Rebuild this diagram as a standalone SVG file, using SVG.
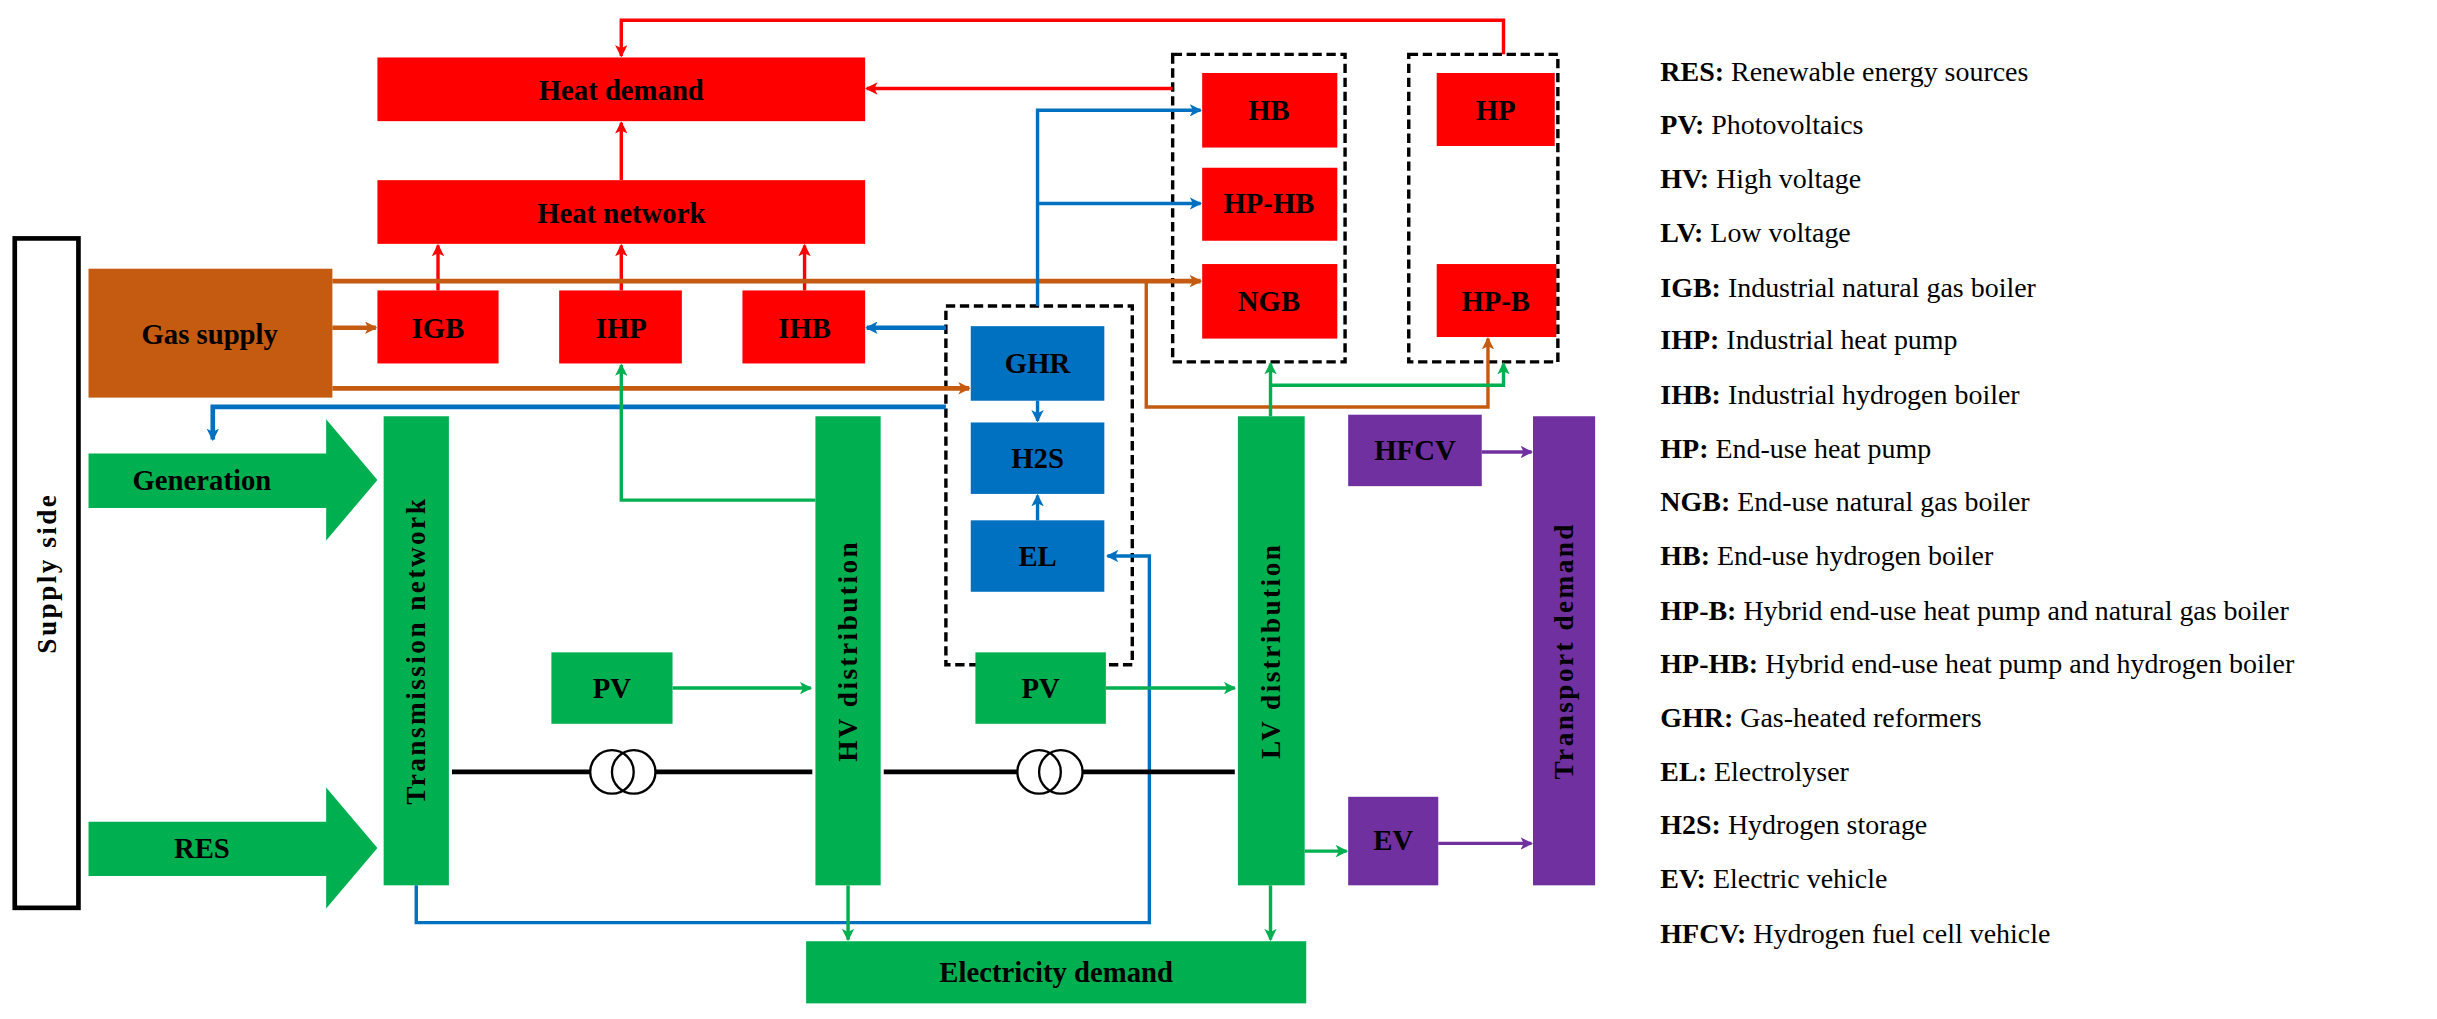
<svg xmlns="http://www.w3.org/2000/svg" width="2437" height="1019" viewBox="0 0 2437 1019">
<style>
text{font-family:"Liberation Serif","DejaVu Serif",serif;font-weight:bold;fill:#000}
.t{font-size:18.5px;text-anchor:middle;dominant-baseline:central}
.v{font-size:17.5px;letter-spacing:1.6px}
.lg{font-size:18px;font-weight:normal}
.lg tspan.k{font-weight:bold}
.r{fill:#FF0000}.g{fill:#00B050}.b{fill:#0070C0}.o{fill:#C55A11}.p{fill:#7030A0}
.c{fill:none;stroke-width:2.2}
.cr{stroke:#FF0000;marker-end:url(#ar)}.cg{stroke:#00B050;marker-end:url(#ag)}.cb{stroke:#0070C0;marker-end:url(#ab)}.co{stroke:#C55A11;marker-end:url(#ao)}.cp{stroke:#7030A0;marker-end:url(#ap)}
.d{fill:none;stroke:#000;stroke-width:2.2;stroke-dasharray:6,3}
</style>
<defs>
<marker id="ar" markerWidth="8" markerHeight="8" refX="7" refY="4" orient="auto" markerUnits="userSpaceOnUse"><path d="M0,0L8,4L0,8L2,4z" fill="#FF0000"/></marker>
<marker id="ag" markerWidth="8" markerHeight="8" refX="7" refY="4" orient="auto" markerUnits="userSpaceOnUse"><path d="M0,0L8,4L0,8L2,4z" fill="#00B050"/></marker>
<marker id="ab" markerWidth="8" markerHeight="8" refX="7" refY="4" orient="auto" markerUnits="userSpaceOnUse"><path d="M0,0L8,4L0,8L2,4z" fill="#0070C0"/></marker>
<marker id="ao" markerWidth="8" markerHeight="8" refX="7" refY="4" orient="auto" markerUnits="userSpaceOnUse"><path d="M0,0L8,4L0,8L2,4z" fill="#C55A11"/></marker>
<marker id="ap" markerWidth="8" markerHeight="8" refX="7" refY="4" orient="auto" markerUnits="userSpaceOnUse"><path d="M0,0L8,4L0,8L2,4z" fill="#7030A0"/></marker>
</defs>
<rect width="2437" height="1019" fill="#fff"/>
<g transform="scale(1.5532)">
<g id="groups">
<rect class="d" x="755" y="35" width="111" height="198"/>
<rect class="d" x="907" y="35" width="96" height="198"/>
<rect class="d" x="609" y="197" width="120" height="231"/>
</g>
<g id="connectors">
<polyline class="c cr" points="968,35 968,13 400,13 400,36"/>
<line class="c cr" x1="400" y1="116" x2="400" y2="79"/>
<line class="c cr" x1="282" y1="187" x2="282" y2="158"/>
<line class="c cr" x1="400" y1="187" x2="400" y2="158"/>
<line class="c cr" x1="518" y1="187" x2="518" y2="158"/>
<line class="c cr" x1="755" y1="57" x2="558" y2="57"/>
<line class="c co" x1="214" y1="181" x2="773" y2="181" style="stroke-width:3"/>
<line class="c co" x1="214" y1="211" x2="242" y2="211" style="stroke-width:3"/>
<line class="c co" x1="214" y1="250" x2="624" y2="250" style="stroke-width:3"/>
<polyline class="c co" points="738,181 738,262 958,262 958,218"/>
<polyline class="c cb" points="668,197 668,71 773,71"/>
<line class="c cb" x1="668" y1="131" x2="773" y2="131"/>
<line class="c cb" x1="609" y1="211" x2="558" y2="211" style="stroke-width:3"/>
<polyline class="c cb" points="609,262 137,262 137,283" style="stroke-width:3"/>
<line class="c cb" x1="668" y1="258" x2="668" y2="271"/>
<line class="c cb" x1="668" y1="335" x2="668" y2="319"/>
<polyline class="c cb" points="268,570 268,594 740,594 740,358 713,358"/>
<polyline class="c cg" points="525,322 400,322 400,235"/>
<line class="c cg" x1="818" y1="268" x2="818" y2="234"/>
<polyline class="c cg" points="818,248 968,248 968,234"/>
<line class="c cg" x1="433" y1="443" x2="522" y2="443"/>
<line class="c cg" x1="712" y1="443" x2="795" y2="443"/>
<line class="c cg" x1="546" y1="570" x2="546" y2="605"/>
<line class="c cg" x1="818" y1="570" x2="818" y2="605"/>
<line class="c cg" x1="840" y1="548" x2="867" y2="548"/>
<line class="c cp" x1="954" y1="291" x2="986" y2="291"/>
<line class="c cp" x1="926" y1="543" x2="986" y2="543"/>
<g stroke="#000" stroke-width="3" fill="none">
<line x1="291" y1="497" x2="380" y2="497"/><line x1="422" y1="497" x2="523" y2="497"/>
<line x1="569" y1="497" x2="655" y2="497"/><line x1="697" y1="497" x2="795" y2="497"/>
</g>
<g stroke="#000" stroke-width="1.5" fill="none">
<circle cx="394" cy="497" r="14"/><circle cx="408" cy="497" r="14"/>
<circle cx="669" cy="497" r="14"/><circle cx="683" cy="497" r="14"/>
</g>
</g>
<g id="supply"><rect x="9.5" y="153.5" width="41" height="431" fill="#fff" stroke="#000" stroke-width="3"/><text class="t v" transform="translate(30,369) rotate(-90)">Supply side</text></g>
<g id="heatdemand"><rect class="r" x="243" y="37" width="314" height="41"/><text class="t" x="400" y="58">Heat demand</text></g>
<g id="heatnetwork"><rect class="r" x="243" y="116" width="314" height="41"/><text class="t" x="400" y="137">Heat network</text></g>
<g id="gas"><rect class="o" x="57" y="173" width="157" height="83"/><text class="t" x="135" y="215">Gas supply</text></g>
<g id="igb"><rect class="r" x="243" y="187" width="78" height="47"/><text class="t" x="282" y="211">IGB</text></g>
<g id="ihp"><rect class="r" x="360" y="187" width="79" height="47"/><text class="t" x="400" y="211">IHP</text></g>
<g id="ihb"><rect class="r" x="478" y="187" width="79" height="47"/><text class="t" x="518" y="211">IHB</text></g>
<g id="hb"><rect class="r" x="774" y="47" width="87" height="48"/><text class="t" x="817" y="71">HB</text></g>
<g id="hphb"><rect class="r" x="774" y="108" width="87" height="47"/><text class="t" x="817" y="131">HP-HB</text></g>
<g id="ngb"><rect class="r" x="774" y="170" width="87" height="48"/><text class="t" x="817" y="194">NGB</text></g>
<g id="hp"><rect class="r" x="925" y="47" width="76" height="47"/><text class="t" x="963" y="71">HP</text></g>
<g id="hpb"><rect class="r" x="925" y="170" width="77" height="47"/><text class="t" x="963" y="194">HP-B</text></g>
<g id="ghr"><rect class="b" x="625" y="210" width="86" height="48"/><text class="t" x="668" y="234">GHR</text></g>
<g id="h2s"><rect class="b" x="625" y="272" width="86" height="46"/><text class="t" x="668" y="295">H2S</text></g>
<g id="el"><rect class="b" x="625" y="335" width="86" height="46"/><text class="t" x="668" y="358">EL</text></g>
<g id="generation"><path class="g" d="M57,292H210V270L243,309L210,348V327H57z"/><text class="t" x="130" y="309">Generation</text></g>
<g id="res"><path class="g" d="M57,529H210V507L243,546L210,585V564H57z"/><text class="t" x="130" y="546">RES</text></g>
<g id="transmission"><rect class="g" x="247" y="268" width="42" height="302"/><text class="t v" transform="translate(268,419) rotate(-90)">Transmission network</text></g>
<g id="hv"><rect class="g" x="525" y="268" width="42" height="302"/><text class="t v" transform="translate(546,419) rotate(-90)">HV distribution</text></g>
<g id="lv"><rect class="g" x="797" y="268" width="43" height="302"/><text class="t v" transform="translate(818,419) rotate(-90)">LV distribution</text></g>
<g id="pv1"><rect class="g" x="355" y="420" width="78" height="46"/><text class="t" x="394" y="443">PV</text></g>
<g id="pv2"><rect class="g" x="628" y="420" width="84" height="46"/><text class="t" x="670" y="443">PV</text></g>
<g id="elecdemand"><rect class="g" x="519" y="606" width="322" height="40"/><text class="t" x="680" y="626">Electricity demand</text></g>
<g id="hfcv"><rect class="p" x="868" y="267" width="86" height="46"/><text class="t" x="911" y="290">HFCV</text></g>
<g id="ev"><rect class="p" x="868" y="513" width="58" height="57"/><text class="t" x="897" y="541">EV</text></g>
<g id="transport"><rect class="p" x="987" y="268" width="40" height="302"/><text class="t v" transform="translate(1007,419) rotate(-90)">Transport demand</text></g>
<g id="legend">
<text class="lg" x="1069" y="52"><tspan class="k">RES:</tspan> Renewable energy sources</text>
<text class="lg" x="1069" y="86"><tspan class="k">PV:</tspan> Photovoltaics</text>
<text class="lg" x="1069" y="121"><tspan class="k">HV:</tspan> High voltage</text>
<text class="lg" x="1069" y="156"><tspan class="k">LV:</tspan> Low voltage</text>
<text class="lg" x="1069" y="191"><tspan class="k">IGB:</tspan> Industrial natural gas boiler</text>
<text class="lg" x="1069" y="225"><tspan class="k">IHP:</tspan> Industrial heat pump</text>
<text class="lg" x="1069" y="260"><tspan class="k">IHB:</tspan> Industrial hydrogen boiler</text>
<text class="lg" x="1069" y="295"><tspan class="k">HP:</tspan> End-use heat pump</text>
<text class="lg" x="1069" y="329"><tspan class="k">NGB:</tspan> End-use natural gas boiler</text>
<text class="lg" x="1069" y="364"><tspan class="k">HB:</tspan> End-use hydrogen boiler</text>
<text class="lg" x="1069" y="399"><tspan class="k">HP-B:</tspan> Hybrid end-use heat pump and natural gas boiler</text>
<text class="lg" x="1069" y="433"><tspan class="k">HP-HB:</tspan> Hybrid end-use heat pump and hydrogen boiler</text>
<text class="lg" x="1069" y="468"><tspan class="k">GHR:</tspan> Gas-heated reformers</text>
<text class="lg" x="1069" y="503"><tspan class="k">EL:</tspan> Electrolyser</text>
<text class="lg" x="1069" y="537"><tspan class="k">H2S:</tspan> Hydrogen storage</text>
<text class="lg" x="1069" y="572"><tspan class="k">EV:</tspan> Electric vehicle</text>
<text class="lg" x="1069" y="607"><tspan class="k">HFCV:</tspan> Hydrogen fuel cell vehicle</text>
</g>
</g>
</svg>
